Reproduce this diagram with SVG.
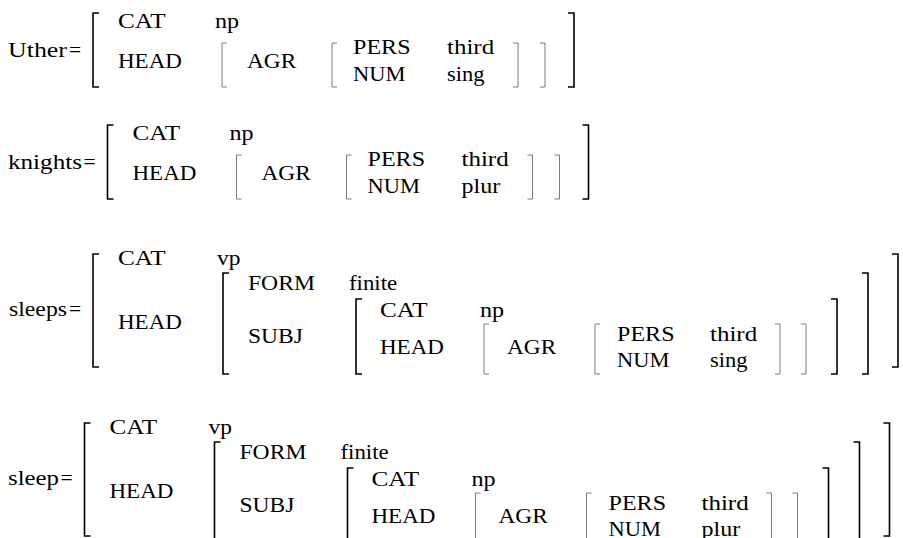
<svg xmlns="http://www.w3.org/2000/svg" width="903" height="538" viewBox="0 0 903 538">
  <style>
    text { font-family: "Liberation Serif", "Times New Roman", serif; font-size: 21.5px; fill: #000; }
    .k { fill: none; stroke: #000; stroke-width: 1.6; }
    .g { fill: none; stroke: #7a7a7a; stroke-width: 1; }
  </style>
  <rect width="903" height="538" fill="#fff"/>

  <!-- Uther -->
  <g id="avm-uther">
    <text x="8" y="57"><tspan textLength="59" lengthAdjust="spacingAndGlyphs">Uther</tspan><tspan x="69">=</tspan></text>
    <path class="k" d="M99 13H93V87H99"/>
    <text x="118" y="28" textLength="47.6" lengthAdjust="spacingAndGlyphs">CAT</text>
    <text x="215" y="28" textLength="24.1" lengthAdjust="spacingAndGlyphs">np</text>
    <text x="118" y="68" textLength="63.9" lengthAdjust="spacingAndGlyphs">HEAD</text>
    <path class="g" d="M227 43H222V87H227"/>
    <text x="247" y="68" textLength="49.3" lengthAdjust="spacingAndGlyphs">AGR</text>
    <path class="g" d="M337 43H332V87H337"/>
    <text x="353" y="54" textLength="57.6" lengthAdjust="spacingAndGlyphs">PERS</text>
    <text x="447" y="54" textLength="47.1" lengthAdjust="spacingAndGlyphs">third</text>
    <text x="353" y="81" textLength="52.4" lengthAdjust="spacingAndGlyphs">NUM</text>
    <text x="447" y="81" textLength="37.5" lengthAdjust="spacingAndGlyphs">sing</text>
    <path class="g" d="M513 43H518V87H513"/>
    <path class="g" d="M540 43H545V87H540"/>
    <path class="k" d="M568 13H574V87H568"/>
  </g>

  <!-- knights -->
  <g id="avm-knights">
    <text x="8" y="169"><tspan textLength="74" lengthAdjust="spacingAndGlyphs">knights</tspan><tspan x="83.5">=</tspan></text>
    <path class="k" d="M113.5 125H107.5V199H113.5"/>
    <text x="132.5" y="140" textLength="47.6" lengthAdjust="spacingAndGlyphs">CAT</text>
    <text x="229.5" y="140" textLength="24.1" lengthAdjust="spacingAndGlyphs">np</text>
    <text x="132.5" y="180" textLength="63.9" lengthAdjust="spacingAndGlyphs">HEAD</text>
    <path class="g" d="M241.5 155H236.5V199H241.5"/>
    <text x="261.5" y="180" textLength="49.3" lengthAdjust="spacingAndGlyphs">AGR</text>
    <path class="g" d="M351.5 155H346.5V199H351.5"/>
    <text x="367.5" y="166" textLength="57.6" lengthAdjust="spacingAndGlyphs">PERS</text>
    <text x="461.5" y="166" textLength="47.1" lengthAdjust="spacingAndGlyphs">third</text>
    <text x="367.5" y="193" textLength="52.4" lengthAdjust="spacingAndGlyphs">NUM</text>
    <text x="461.5" y="193" textLength="38.7" lengthAdjust="spacingAndGlyphs">plur</text>
    <path class="g" d="M527.5 155H532.5V199H527.5"/>
    <path class="g" d="M554.5 155H559.5V199H554.5"/>
    <path class="k" d="M582.5 125H588.5V199H582.5"/>
  </g>

  <!-- sleeps -->
  <g id="avm-sleeps">
    <text x="9" y="316"><tspan textLength="58" lengthAdjust="spacingAndGlyphs">sleeps</tspan><tspan x="69">=</tspan></text>
    <path class="k" d="M99 254H93V367H99"/>
    <text x="118" y="265" textLength="47.6" lengthAdjust="spacingAndGlyphs">CAT</text>
    <text x="217" y="265" textLength="23.5" lengthAdjust="spacingAndGlyphs">vp</text>
    <text x="118" y="329" textLength="63.9" lengthAdjust="spacingAndGlyphs">HEAD</text>
    <path class="k" d="M229 273H223V374H229"/>
    <text x="248" y="290" textLength="66.9" lengthAdjust="spacingAndGlyphs">FORM</text>
    <text x="349" y="290" textLength="48.2" lengthAdjust="spacingAndGlyphs">finite</text>
    <text x="248" y="343" textLength="54.9" lengthAdjust="spacingAndGlyphs">SUBJ</text>
    <path class="k" d="M362 299H356V374H362"/>
    <text x="380" y="317" textLength="47.6" lengthAdjust="spacingAndGlyphs">CAT</text>
    <text x="480" y="317" textLength="24.1" lengthAdjust="spacingAndGlyphs">np</text>
    <text x="380" y="354" textLength="63.9" lengthAdjust="spacingAndGlyphs">HEAD</text>
    <path class="g" d="M489 324H484V374H489"/>
    <text x="507" y="354" textLength="49.3" lengthAdjust="spacingAndGlyphs">AGR</text>
    <path class="g" d="M600 324H595V374H600"/>
    <text x="617" y="341" textLength="57.6" lengthAdjust="spacingAndGlyphs">PERS</text>
    <text x="710" y="341" textLength="47.1" lengthAdjust="spacingAndGlyphs">third</text>
    <text x="617" y="367" textLength="52.4" lengthAdjust="spacingAndGlyphs">NUM</text>
    <text x="710" y="367" textLength="37.5" lengthAdjust="spacingAndGlyphs">sing</text>
    <path class="g" d="M775 324H780V374H775"/>
    <path class="g" d="M801 324H806V374H801"/>
    <path class="k" d="M831 299H837V374H831"/>
    <path class="k" d="M862 273H868V374H862"/>
    <path class="k" d="M892 254H898V367H892"/>
  </g>

  <!-- sleep -->
  <g id="avm-sleep">
    <text x="8" y="485"><tspan textLength="51" lengthAdjust="spacingAndGlyphs">sleep</tspan><tspan x="60.5">=</tspan></text>
    <path class="k" d="M90.5 423H84.5V536H90.5"/>
    <text x="109.5" y="434" textLength="47.6" lengthAdjust="spacingAndGlyphs">CAT</text>
    <text x="208.5" y="434" textLength="23.5" lengthAdjust="spacingAndGlyphs">vp</text>
    <text x="109.5" y="498" textLength="63.9" lengthAdjust="spacingAndGlyphs">HEAD</text>
    <path class="k" d="M220.5 442H214.5V543H220.5"/>
    <text x="239.5" y="459" textLength="66.9" lengthAdjust="spacingAndGlyphs">FORM</text>
    <text x="340.5" y="459" textLength="48.2" lengthAdjust="spacingAndGlyphs">finite</text>
    <text x="239.5" y="512" textLength="54.9" lengthAdjust="spacingAndGlyphs">SUBJ</text>
    <path class="k" d="M353.5 468H347.5V543H353.5"/>
    <text x="371.5" y="486" textLength="47.6" lengthAdjust="spacingAndGlyphs">CAT</text>
    <text x="471.5" y="486" textLength="24.1" lengthAdjust="spacingAndGlyphs">np</text>
    <text x="371.5" y="523" textLength="63.9" lengthAdjust="spacingAndGlyphs">HEAD</text>
    <path class="g" d="M480.5 493H475.5V543H480.5"/>
    <text x="498.5" y="523" textLength="49.3" lengthAdjust="spacingAndGlyphs">AGR</text>
    <path class="g" d="M591.5 493H586.5V543H591.5"/>
    <text x="608.5" y="510" textLength="57.6" lengthAdjust="spacingAndGlyphs">PERS</text>
    <text x="701.5" y="510" textLength="47.1" lengthAdjust="spacingAndGlyphs">third</text>
    <text x="608.5" y="536" textLength="52.4" lengthAdjust="spacingAndGlyphs">NUM</text>
    <text x="701.5" y="536" textLength="38.7" lengthAdjust="spacingAndGlyphs">plur</text>
    <path class="g" d="M766.5 493H771.5V543H766.5"/>
    <path class="g" d="M792.5 493H797.5V543H792.5"/>
    <path class="k" d="M822.5 468H828.5V543H822.5"/>
    <path class="k" d="M853.5 442H859.5V543H853.5"/>
    <path class="k" d="M883.5 423H889.5V536H883.5"/>
  </g>
</svg>
